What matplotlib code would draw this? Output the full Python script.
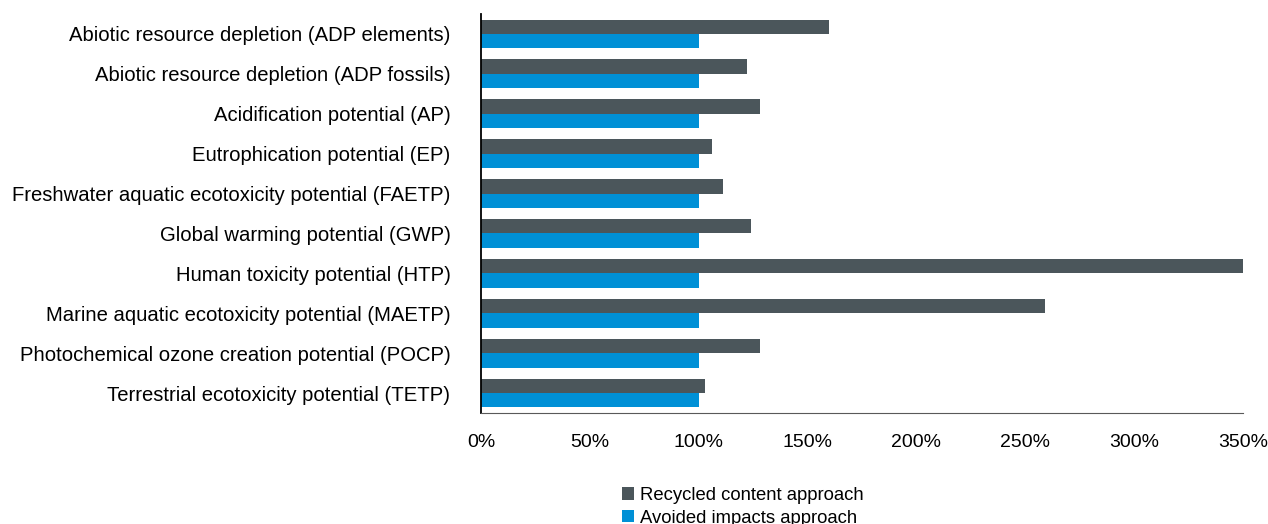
import matplotlib.pyplot as plt
import numpy as np
from matplotlib.ticker import PercentFormatter

plt.rcParams['font.family'] = ['Liberation Sans', 'DejaVu Sans']

categories = [
    "Abiotic resource depletion (ADP elements)",
    "Abiotic resource depletion (ADP fossils)",
    "Acidification potential (AP)",
    "Eutrophication potential (EP)",
    "Freshwater aquatic ecotoxicity potential (FAETP)",
    "Global warming potential (GWP)",
    "Human toxicity potential (HTP)",
    "Marine aquatic ecotoxicity potential (MAETP)",
    "Photochemical ozone creation potential (POCP)",
    "Terrestrial ecotoxicity potential (TETP)",
]
recycled = [160, 122, 128, 106, 111, 124, 355, 259, 128, 103]
avoided = [100, 100, 100, 100, 100, 100, 100, 100, 100, 100]

fig = plt.figure(figsize=(12.68, 5.24), dpi=100)
ax = fig.add_axes([481 / 1268, 1 - 413 / 524, (1243 - 481) / 1268, (413 - 14) / 524])

y = np.arange(len(categories))
h = 0.36
ax.barh(y - h / 2, recycled, height=h, color="#4B565B", label="Recycled content approach")
ax.barh(y + h / 2, avoided, height=h, color="#0090D6", label="Avoided impacts approach")

ax.set_ylim(len(categories) - 0.5, -0.5)
ax.set_xlim(0, 350)
ax.set_xticks(np.arange(0, 351, 50))
ax.xaxis.set_major_formatter(PercentFormatter(decimals=0))
ax.set_yticks(y)
ax.set_yticklabels(categories)
ax.tick_params(axis="y", length=0, pad=22, labelsize=14.6, colors="black")
ax.tick_params(axis="x", length=0, pad=15, labelsize=14, colors="black")

for s in ["top", "right"]:
    ax.spines[s].set_visible(False)
ax.spines["left"].set_color("black")
ax.spines["left"].set_linewidth(1.3)
ax.spines["bottom"].set_color("#595959")

fig.legend(loc="upper left", bbox_to_anchor=(622 / 1268, 1 - 487 / 524), frameon=False,
           fontsize=13.3, handlelength=0.65, handleheight=0.65, handletextpad=0.3,
           labelspacing=0.3, borderpad=0, borderaxespad=0)

fig.savefig("out.png", dpi=100)
